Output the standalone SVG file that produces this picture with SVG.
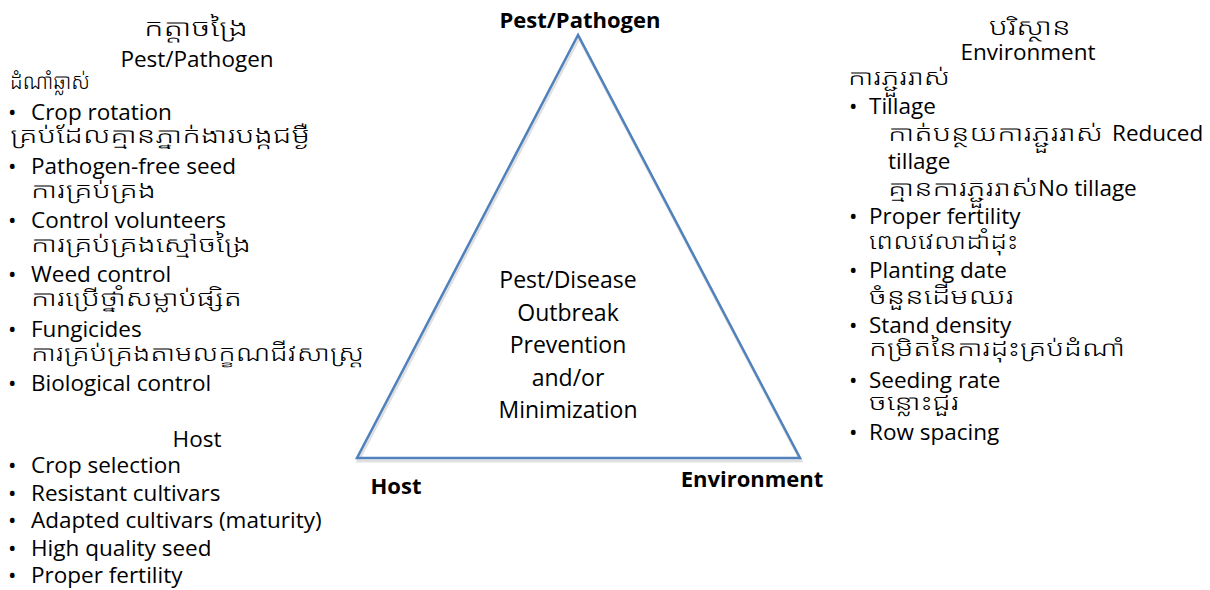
<svg xmlns="http://www.w3.org/2000/svg" width="1210" height="590" viewBox="0 0 1210 590">
<style>
text{font-family:"Open Sans","Noto Sans","Noto Sans Khmer","Khmer OS","DejaVu Sans",sans-serif;fill:#000}
.t{font-size:22.5px}
.k{font-size:21.5px;font-weight:300}
.kt{font-size:23px;font-weight:300;text-anchor:middle}
.c{text-anchor:middle}
.b{font-size:22px;font-weight:bold;text-anchor:middle}
.m{font-size:23px;text-anchor:middle}
.tri{fill:none;stroke:#4f81bd;stroke-width:2.5;stroke-linejoin:miter}
.sh{fill:none;stroke:#000;stroke-opacity:0.12;stroke-width:3}
</style>
<rect width="1210" height="590" fill="#fff"/>
<g id="triangle">
<polygon class="sh" points="579,38 358,461 801,461"/>
<polygon class="tri" points="578,35 357,458 800,458"/>
</g>
<g id="label-pest-vertex"><text class="b" x="580" y="28">Pest/Pathogen</text></g>
<g id="label-host-vertex"><text class="b" x="396" y="494">Host</text></g>
<g id="label-env-vertex"><text class="b" x="752" y="487">Environment</text></g>
<g id="center">
<text class="m" x="568" y="288">Pest/Disease</text>
<text class="m" x="568" y="321">Outbreak</text>
<text class="m" x="568" y="353">Prevention</text>
<text class="m" x="568" y="386">and/or</text>
<text class="m" x="568" y="418">Minimization</text>
</g>
<g id="pest-list">
<text class="kt" x="196" y="36" textLength="104" lengthAdjust="spacingAndGlyphs">កត្តាចង្រៃ</text>
<text class="t c" x="197" y="67">Pest/Pathogen</text>
<text class="k" x="10" y="89" textLength="80" lengthAdjust="spacingAndGlyphs">ដំណាំឆ្លាស់</text>
<text class="t" x="8" y="120">•</text><text class="t" x="31" y="120">Crop rotation</text>
<text class="k" x="10" y="143" textLength="300" lengthAdjust="spacingAndGlyphs">គ្រប់ដែលគ្មានភ្នាក់ងារបង្កជម្ងឺ</text>
<text class="t" x="8" y="174">•</text><text class="t" x="31" y="174">Pathogen-free seed</text>
<text class="k" x="31" y="198" textLength="125" lengthAdjust="spacingAndGlyphs">ការគ្រប់គ្រង</text>
<text class="t" x="8" y="228">•</text><text class="t" x="31" y="228">Control volunteers</text>
<text class="k" x="31" y="252" textLength="220" lengthAdjust="spacingAndGlyphs">ការគ្រប់គ្រងស្មៅចង្រៃ</text>
<text class="t" x="8" y="282">•</text><text class="t" x="31" y="282">Weed control</text>
<text class="k" x="31" y="306" textLength="211" lengthAdjust="spacingAndGlyphs">ការប្រើថ្នាំសម្លាប់ផ្សិត</text>
<text class="t" x="8" y="337">•</text><text class="t" x="31" y="337">Fungicides</text>
<text class="k" x="31" y="361" textLength="333" lengthAdjust="spacingAndGlyphs">ការគ្រប់គ្រងតាមលក្ខណជីវសាស្ត្រ</text>
<text class="t" x="8" y="391">•</text><text class="t" x="31" y="391">Biological control</text>
</g>
<g id="host-list">
<text class="t c" x="197" y="447">Host</text>
<text class="t" x="8" y="473">•</text><text class="t" x="31" y="473">Crop selection</text>
<text class="t" x="8" y="501">•</text><text class="t" x="31" y="501">Resistant cultivars</text>
<text class="t" x="8" y="528">•</text><text class="t" x="31" y="528">Adapted cultivars (maturity)</text>
<text class="t" x="8" y="556">•</text><text class="t" x="31" y="556">High quality seed</text>
<text class="t" x="8" y="583">•</text><text class="t" x="31" y="583">Proper fertility</text>
</g>
<g id="environment-list">
<text class="kt" x="1030" y="35" textLength="82" lengthAdjust="spacingAndGlyphs">បរិស្ថាន</text>
<text class="t c" x="1028" y="60">Environment</text>
<text class="k" x="848" y="85" textLength="102" lengthAdjust="spacingAndGlyphs">ការភ្ជួររាស់</text>
<text class="t" x="849" y="114">•</text><text class="t" x="869" y="114">Tillage</text>
<text class="k" x="888" y="141" textLength="215" lengthAdjust="spacingAndGlyphs">កាត់បន្ថយការភ្ជួររាស់</text><text class="t" x="1112" y="141">Reduced</text>
<text class="t" x="888" y="169">tillage</text>
<text class="k" x="888" y="196" textLength="150" lengthAdjust="spacingAndGlyphs">គ្មានការភ្ជួររាស់</text><text class="t" x="1038" y="196">No tillage</text>
<text class="t" x="849" y="224">•</text><text class="t" x="869" y="224">Proper fertility</text>
<text class="k" x="869" y="249" textLength="149" lengthAdjust="spacingAndGlyphs">ពេលវេលាដាំដុះ</text>
<text class="t" x="849" y="278">•</text><text class="t" x="869" y="278">Planting date</text>
<text class="k" x="869" y="304" textLength="145" lengthAdjust="spacingAndGlyphs">ចំនួនដើមឈរ</text>
<text class="t" x="849" y="333">•</text><text class="t" x="869" y="333">Stand density</text>
<text class="k" x="869" y="356" textLength="256" lengthAdjust="spacingAndGlyphs">កម្រិតនៃការដុះគ្រប់ដំណាំ</text>
<text class="t" x="849" y="388">•</text><text class="t" x="869" y="388">Seeding rate</text>
<text class="k" x="869" y="410" textLength="90" lengthAdjust="spacingAndGlyphs">ចន្លោះជួរ</text>
<text class="t" x="849" y="440">•</text><text class="t" x="869" y="440">Row spacing</text>
</g>
</svg>
